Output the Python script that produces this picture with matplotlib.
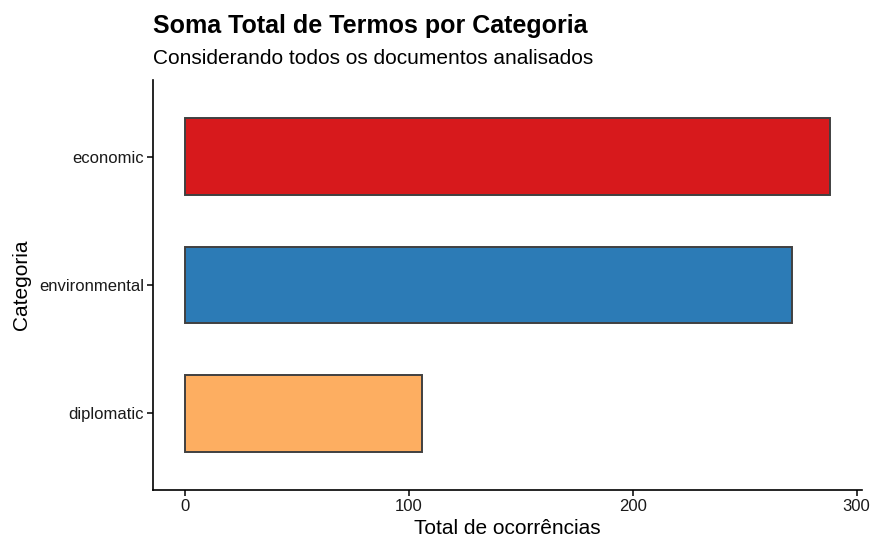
import matplotlib
matplotlib.use("Agg")
import matplotlib.pyplot as plt

categories = ["diplomatic", "environmental", "economic"]
values = [106, 271, 288]
colors = ["#FDAE61", "#2C7BB6", "#D7191C"]
xticks = [0, 100, 200, 300]

plt.rcParams['font.family'] = ['Liberation Sans', 'DejaVu Sans']

W, H = 877, 538
fig = plt.figure(figsize=(W/100, H/100), dpi=100)
ax = fig.add_axes([153/W, 1-490/H, (862-153)/W, (490-80)/H])

pos = list(range(1, len(categories)+1))
ax.barh(pos, values, height=0.6, color=colors, edgecolor="#404040", linewidth=1.4)

vmax = max(values)
ax.set_xlim(-0.05*vmax, vmax*1.05)
ax.set_ylim(0.4, len(categories)+0.6)
ax.set_yticks(pos)
ax.set_yticklabels(categories)
ax.set_xticks(xticks)
ax.tick_params(axis='both', labelsize=12, colors="black", length=4, width=1.1, pad=2.5)
ax.tick_params(axis='both', labelcolor="#1a1a1a")
for s in ["top", "right"]:
    ax.spines[s].set_visible(False)
for s in ["left", "bottom"]:
    ax.spines[s].set_linewidth(1.2)
    ax.spines[s].set_color("black")

fig.text((153+862)/2/W, 1-534/H, "Total de ocorrências", fontsize=15,
         ha="center", va="baseline")
fig.text(22/W, 1-285/H, "Categoria", fontsize=15, rotation=90,
         ha="center", va="center")

fig.text(153/W, 1-33/H, "Soma Total de Termos por Categoria", fontsize=18,
         fontweight="bold", ha="left", va="baseline")
fig.text(153/W, 1-64/H, "Considerando todos os documentos analisados", fontsize=15,
         ha="left", va="baseline")

fig.savefig("out.png", dpi=100)
